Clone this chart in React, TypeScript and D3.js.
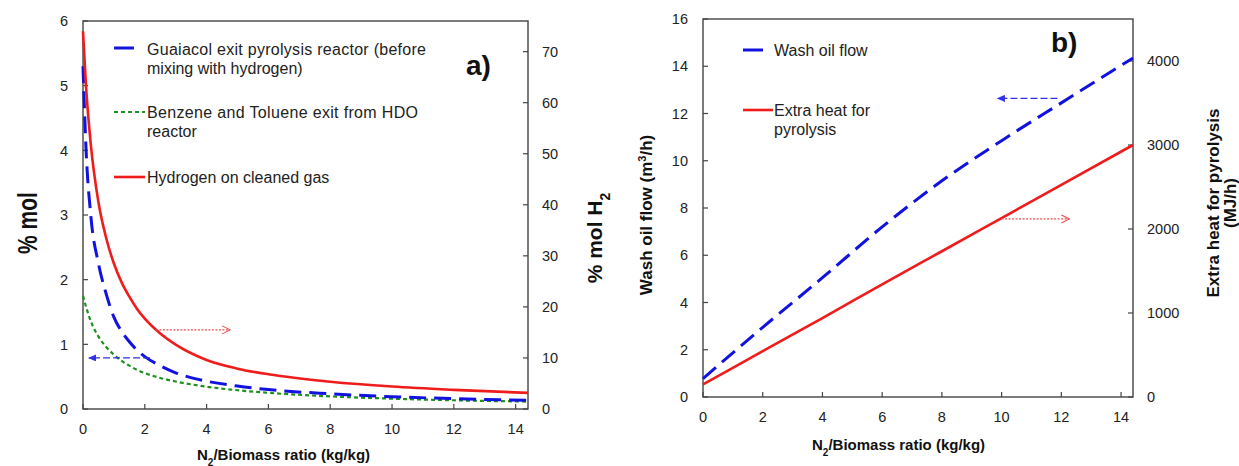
import React from "react";
import * as d3 from "d3";

// ---------- Data: panel a ----------
const xA = [0, 0.1, 0.25, 0.5, 0.75, 1, 1.25, 1.5, 1.75, 2, 2.5, 3, 4, 5, 6, 8, 10, 12, 14.4];
const guaiacolA = [5.3, 4.0, 3.0, 2.25, 1.78, 1.42, 1.2, 1.04, 0.91, 0.81, 0.67, 0.56, 0.43, 0.355, 0.3, 0.235, 0.19, 0.16, 0.135];
const benzeneA = [1.75, 1.58, 1.36, 1.12, 0.96, 0.84, 0.745, 0.67, 0.605, 0.555, 0.48, 0.425, 0.345, 0.29, 0.25, 0.195, 0.16, 0.135, 0.115];
const hydrogenA = [74, 63, 52, 40.5, 33.5, 28.5, 24.8, 22, 19.6, 17.7, 14.8, 12.6, 9.6, 7.9, 6.8, 5.35, 4.4, 3.75, 3.15];
const xTicks = [0, 2, 4, 6, 8, 10, 12, 14];
const yTicksA = [0, 1, 2, 3, 4, 5, 6];
const yTicksAR = [0, 10, 20, 30, 40, 50, 60, 70];

// ---------- Data: panel b ----------
const xB = [0, 2, 4, 6, 8, 10, 12, 14.4];
const washOilB = [0.78, 2.95, 5.05, 7.2, 9.15, 10.85, 12.45, 14.35];
const extraHeatB = [150, 545, 940, 1340, 1735, 2130, 2525, 3000];
const yTicksB = [0, 2, 4, 6, 8, 10, 12, 14, 16];
const yTicksBR = [0, 1000, 2000, 3000, 4000];

// annotation arrows (data coordinates)
const arrowA_red = { y: 15.5, x0: 2.36, x1: 4.76 }; // right axis
const arrowA_blue = { y: 0.79, x0: 2.17, x1: 0.19 }; // left axis
const arrowB_blue = { y: 12.64, x0: 11.87, x1: 9.87 }; // left axis
const arrowB_red = { y: 2120, x0: 10.0, x1: 12.27 }; // right axis

const FONT = "'Liberation Sans', Arial, Helvetica, sans-serif";
const BLUE = "#1212e0";
const RED = "#f01c1c";
const GREEN = "#1f8f1f";
const AX = "#444";
const TXT = "#222";

export default function App() {
  // panel a scales
  const xa = d3.scaleLinear().domain([0, 14.4]).range([83, 528]);
  const yaL = d3.scaleLinear().domain([0, 6]).range([409, 21]);
  const yaR = d3.scaleLinear().domain([0, 76]).range([409, 21]);
  // panel b scales
  const xb = d3.scaleLinear().domain([0, 14.4]).range([703, 1133]);
  const ybL = d3.scaleLinear().domain([0, 16]).range([397, 19]);
  const ybR = d3.scaleLinear().domain([0, 4500]).range([397, 19]);

  const mk = (xs: number[], xs2: d3.ScaleLinear<number, number>, ys: d3.ScaleLinear<number, number>) =>
    d3
      .line<number>()
      .x((_, i) => xs2(xs[i]))
      .y((d) => ys(d))
      .curve(d3.curveMonotoneX);

  const lineGua = mk(xA, xa, yaL)(guaiacolA) || "";
  const lineBen = mk(xA, xa, yaL)(benzeneA) || "";
  const lineHyd = mk(xA, xa, yaR)(hydrogenA) || "";
  const lineWash = mk(xB, xb, ybL)(washOilB) || "";
  const lineHeat = mk(xB, xb, ybR)(extraHeatB) || "";

  const tickFont = 14.5;

  const frame = (
    x: d3.ScaleLinear<number, number>,
    yl: d3.ScaleLinear<number, number>
  ) => {
    const [x0, x1] = x.range();
    const [y0, y1] = yl.range();
    return (
      <rect x={x0} y={y1} width={x1 - x0} height={y0 - y1} fill="none" stroke={AX} strokeWidth={1.4} />
    );
  };

  const axes = (
    x: d3.ScaleLinear<number, number>,
    yl: d3.ScaleLinear<number, number>,
    yr: d3.ScaleLinear<number, number>,
    ylTicks: number[],
    yrTicks: number[],
    key: string
  ) => {
    const [x0, x1] = x.range();
    const [y0] = yl.range();
    return (
      <g key={key} fontFamily={FONT} fontSize={tickFont} fill={TXT}>
        {xTicks.map((t) => (
          <g key={"x" + t}>
            <line x1={x(t)} x2={x(t)} y1={y0} y2={y0 - 5} stroke={AX} strokeWidth={1.2} />
            <text x={x(t)} y={y0 + 25} textAnchor="middle">
              {t}
            </text>
          </g>
        ))}
        {ylTicks.map((t) => (
          <g key={"yl" + t}>
            <line x1={x0} x2={x0 + 5} y1={yl(t)} y2={yl(t)} stroke={AX} strokeWidth={1.2} />
            <text x={x0 - 15} y={yl(t)} dy="0.36em" textAnchor="end">
              {t}
            </text>
          </g>
        ))}
        {yrTicks.map((t) => (
          <g key={"yr" + t}>
            <line x1={x1} x2={x1 - 5} y1={yr(t)} y2={yr(t)} stroke={AX} strokeWidth={1.2} />
            <text x={x1 + 14} y={yr(t)} dy="0.36em" textAnchor="start">
              {t}
            </text>
          </g>
        ))}
      </g>
    );
  };

  return (
    <svg
      width={1239}
      height={466}
      viewBox="0 0 1239 466"
      style={{ position: "fixed", left: 0, top: 0, background: "#fff" }}
    >
      <defs>
        <marker id="openRed" viewBox="0 0 10 10" refX="9" refY="5" markerWidth="10" markerHeight="10" markerUnits="userSpaceOnUse" orient="auto">
          <path d="M1,1 L9,5 L1,9" fill="none" stroke="#e85050" strokeWidth={1.1} />
        </marker>
        <marker id="fillBlue" viewBox="0 0 10 10" refX="9" refY="5" markerWidth="8" markerHeight="7" markerUnits="userSpaceOnUse" orient="auto" preserveAspectRatio="none">
          <path d="M0,0 L10,5 L0,10 z" fill="#3030e8" />
        </marker>
      </defs>

      {/* ---------------- Panel a ---------------- */}
      {frame(xa, yaL)}
      {axes(xa, yaL, yaR, yTicksA, yTicksAR, "axA")}
      <path d={lineBen} fill="none" stroke={GREEN} strokeWidth={2.2} strokeDasharray="4,3" />
      <path d={lineGua} fill="none" stroke={BLUE} strokeWidth={3} strokeDasharray="17,8" />
      <path d={lineHyd} fill="none" stroke={RED} strokeWidth={2.6} />

      {/* arrows a */}
      <line
        x1={xa(arrowA_red.x0)} x2={xa(arrowA_red.x1)} y1={yaR(arrowA_red.y)} y2={yaR(arrowA_red.y)}
        stroke="#e85050" strokeWidth={1.1} strokeDasharray="2,1.5" markerEnd="url(#openRed)"
      />
      <line
        x1={xa(arrowA_blue.x0)} x2={xa(arrowA_blue.x1)} y1={yaL(arrowA_blue.y)} y2={yaL(arrowA_blue.y)}
        stroke="#3030e8" strokeWidth={1.3} strokeDasharray="7,3" markerEnd="url(#fillBlue)"
      />

      {/* legend a */}
      <g fontFamily={FONT} fontSize={16} fill={TXT}>
        <line x1={114} x2={134} y1={48} y2={48} stroke={BLUE} strokeWidth={3} />
        <text x={147} y={55} textLength={279} lengthAdjust="spacing">Guaiacol exit pyrolysis reactor (before</text>
        <text x={147} y={74}>mixing with hydrogen)</text>
        <line x1={114} x2={145} y1={112} y2={112} stroke={GREEN} strokeWidth={2.2} strokeDasharray="4,3" />
        <text x={147} y={118} textLength={271} lengthAdjust="spacing">Benzene and Toluene exit from HDO</text>
        <text x={147} y={137}>reactor</text>
        <line x1={114} x2={145} y1={177} y2={177} stroke={RED} strokeWidth={2.6} />
        <text x={147} y={183}>Hydrogen on cleaned gas</text>
      </g>
      <text x={466} y={75} fontFamily={FONT} fontSize={28} fontWeight="bold" fill="#111">a)</text>

      {/* axis titles a */}
      <text
        transform="translate(37,223) scale(1.3,1) rotate(-90)"
        textAnchor="middle" fontFamily={FONT} fontSize={21} fontWeight="bold" fill="#111"
      >
        % mol
      </text>
      <text
        transform="translate(602,238) rotate(-90)"
        textAnchor="middle" fontFamily={FONT} fontSize={21} fontWeight="bold" fill="#111"
      >
        % mol H<tspan baselineShift="sub" fontSize={14}>2</tspan>
      </text>
      <text x={197} y={460} fontFamily={FONT} fontSize={15} fontWeight="bold" fill="#111">
        N<tspan baselineShift="sub" fontSize={10}>2</tspan>/Biomass ratio (kg/kg)
      </text>

      {/* ---------------- Panel b ---------------- */}
      {frame(xb, ybL)}
      {axes(xb, ybL, ybR, yTicksB, yTicksBR, "axB")}
      <path d={lineWash} fill="none" stroke={BLUE} strokeWidth={3} strokeDasharray="17,8" />
      <path d={lineHeat} fill="none" stroke={RED} strokeWidth={2.6} />

      {/* arrows b */}
      <line
        x1={xb(arrowB_blue.x0)} x2={xb(arrowB_blue.x1)} y1={ybL(arrowB_blue.y)} y2={ybL(arrowB_blue.y)}
        stroke="#3030e8" strokeWidth={1.3} strokeDasharray="7,3" markerEnd="url(#fillBlue)"
      />
      <line
        x1={xb(arrowB_red.x0)} x2={xb(arrowB_red.x1)} y1={ybR(arrowB_red.y)} y2={ybR(arrowB_red.y)}
        stroke="#e85050" strokeWidth={1.1} strokeDasharray="2,1.5" markerEnd="url(#openRed)"
      />

      {/* legend b */}
      <g fontFamily={FONT} fontSize={16} fill={TXT}>
        <line x1={743} x2={763} y1={50} y2={50} stroke={BLUE} strokeWidth={3} />
        <text x={774} y={56}>Wash oil flow</text>
        <line x1={743} x2={773} y1={110} y2={110} stroke={RED} strokeWidth={2.6} />
        <text x={774} y={116}>Extra heat for</text>
        <text x={774} y={135}>pyrolysis</text>
      </g>
      <text x={1051} y={52} fontFamily={FONT} fontSize={28} fontWeight="bold" fill="#111">b)</text>

      {/* axis titles b */}
      <text
        transform="translate(652,215) rotate(-90)"
        textAnchor="middle" fontFamily={FONT} fontSize={17} fontWeight="bold" fill="#111"
      >
        Wash oil flow (m<tspan baselineShift="super" fontSize={11}>3</tspan>/h)
      </text>
      <text
        transform="translate(1219,203) rotate(-90)"
        textAnchor="middle" fontFamily={FONT} fontSize={17} fontWeight="bold" fill="#111"
      >
        Extra heat for pyrolysis
      </text>
      <text
        transform="translate(1236,203) rotate(-90)"
        textAnchor="middle" fontFamily={FONT} fontSize={17} fontWeight="bold" fill="#111"
      >
        (MJ/h)
      </text>
      <text x={812} y={450} fontFamily={FONT} fontSize={15} fontWeight="bold" fill="#111">
        N<tspan baselineShift="sub" fontSize={10}>2</tspan>/Biomass ratio (kg/kg)
      </text>
    </svg>
  );
}
